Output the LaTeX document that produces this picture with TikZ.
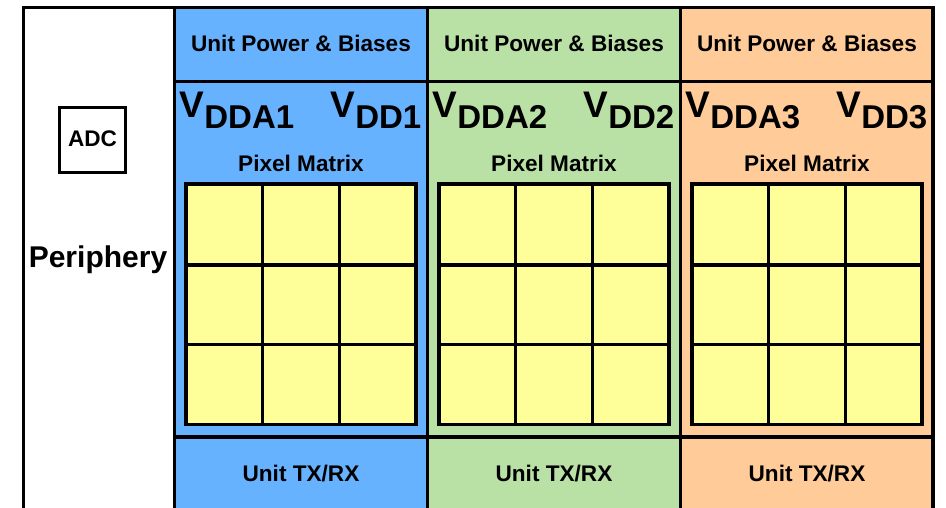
\documentclass[tikz,border=0pt]{standalone}
\usepackage{fontspec}
\setmainfont{Liberation Sans}
\definecolor{cblue}{HTML}{66B2FF}
\definecolor{cgreen}{HTML}{B9E0A5}
\definecolor{corange}{HTML}{FFCC99}
\definecolor{cyellow}{HTML}{FFFF99}
\tikzset{
  frameline/.style={line width=3.2pt, draw=black},
  lbl/.style={anchor=base, inner sep=0pt, font=\bfseries\fontsize{22.6}{22.6}\selectfont},
  vlbl/.style={inner sep=0pt, font=\bfseries\fontsize{37}{37}\selectfont},
}
\newcommand{\vsub}[2]{#1\raisebox{-11pt}{\fontsize{33}{33}\selectfont #2}}
\begin{document}
\begin{tikzpicture}[x=1pt,y=-1pt, line join=miter]
\useasboundingbox (0,0) rectangle (946,507);
\clip (0,0) rectangle (946,507);
\fill[white] (0,0) rectangle (946,507);
% column fills
\foreach \k/\c in {0/cblue,1/cgreen,2/corange}{
  \pgfmathsetmacro{\L}{174.5+253*\k}
  \fill[\c] (\L,7.5) rectangle ({\L+253},520);
}
% pixel matrices
\foreach \k in {0,1,2}{
  \pgfmathsetmacro{\L}{174.5+253*\k+11.5}
  \fill[cyellow] (\L,184) rectangle ({\L+230},424.5);
  \draw[frameline] (\L,184) rectangle ({\L+230},424.5);
  \draw[frameline] ({\L+76.67},184) -- ({\L+76.67},424.5)
                   ({\L+153.33},184) -- ({\L+153.33},424.5)
                   (\L,265) -- ({\L+230},265)
                   (\L,344.5) -- ({\L+230},344.5);
}
% frame lines
\draw[frameline] (23.5,520) -- (23.5,7.5) -- (933,7.5) -- (933,520);
\draw[frameline] (174.5,7.5) -- (174.5,520)
                 (427.5,7.5) -- (427.5,520)
                 (680.5,7.5) -- (680.5,520)
                 (174.5,81.5) -- (933,81.5)
                 (174.5,437) -- (933,437);
% ADC box and periphery
\draw[line width=2.4pt] (59.5,107.5) rectangle (125.5,172.5);
\node[lbl] (adc) at (92.5,146.7) {ADC};
\node[lbl, font=\bfseries\fontsize{30}{30}\selectfont] (periph) at (98,267) {Periphery};
% column texts
\foreach \k/\n in {0/1,1/2,2/3}{
  \pgfmathsetmacro{\L}{174.5+253*\k}
  \pgfmathsetmacro{\C}{\L+126.5}
  \node[lbl] (pb\n) at (\C,51.7) {Unit Power \& Biases};
  \node[lbl] (pm\n) at (\C,171.5) {Pixel Matrix};
  \node[lbl] (tx\n) at (\C,481.5) {Unit TX/RX};
  \node[vlbl, anchor=base west] (vdda\n) at ({\L+5},117.5) {\vsub{V}{DDA\n}};
  \node[vlbl, anchor=base east] (vdd\n) at ({\L+247},117.5) {\vsub{V}{DD\n}};
}
\end{tikzpicture}
\end{document}
